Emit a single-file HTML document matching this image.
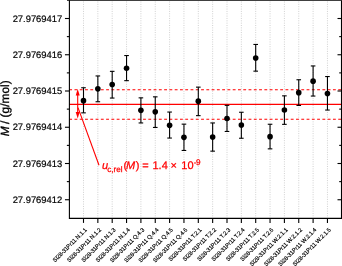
<!DOCTYPE html>
<html><head><meta charset="utf-8"><style>
html,body{margin:0;padding:0;background:#fff;}
body{width:342px;height:266px;overflow:hidden;}
svg{display:block;font-family:"Liberation Sans",Arial,sans-serif;text-rendering:geometricPrecision;}
</style></head><body>
<svg width="342" height="266" viewBox="0 0 342 266">
<line x1="83.50" y1="1.5" x2="83.50" y2="217.90" stroke="#d0d0d0" stroke-width="1" stroke-dasharray="1 1.35"/>
<line x1="97.85" y1="1.5" x2="97.85" y2="217.90" stroke="#d0d0d0" stroke-width="1" stroke-dasharray="1 1.35"/>
<line x1="112.20" y1="1.5" x2="112.20" y2="217.90" stroke="#d0d0d0" stroke-width="1" stroke-dasharray="1 1.35"/>
<line x1="126.55" y1="1.5" x2="126.55" y2="217.90" stroke="#d0d0d0" stroke-width="1" stroke-dasharray="1 1.35"/>
<line x1="140.90" y1="1.5" x2="140.90" y2="217.90" stroke="#d0d0d0" stroke-width="1" stroke-dasharray="1 1.35"/>
<line x1="155.25" y1="1.5" x2="155.25" y2="217.90" stroke="#d0d0d0" stroke-width="1" stroke-dasharray="1 1.35"/>
<line x1="169.60" y1="1.5" x2="169.60" y2="217.90" stroke="#d0d0d0" stroke-width="1" stroke-dasharray="1 1.35"/>
<line x1="183.95" y1="1.5" x2="183.95" y2="217.90" stroke="#d0d0d0" stroke-width="1" stroke-dasharray="1 1.35"/>
<line x1="198.30" y1="1.5" x2="198.30" y2="217.90" stroke="#d0d0d0" stroke-width="1" stroke-dasharray="1 1.35"/>
<line x1="212.65" y1="1.5" x2="212.65" y2="217.90" stroke="#d0d0d0" stroke-width="1" stroke-dasharray="1 1.35"/>
<line x1="227.00" y1="1.5" x2="227.00" y2="217.90" stroke="#d0d0d0" stroke-width="1" stroke-dasharray="1 1.35"/>
<line x1="241.35" y1="1.5" x2="241.35" y2="217.90" stroke="#d0d0d0" stroke-width="1" stroke-dasharray="1 1.35"/>
<line x1="255.70" y1="1.5" x2="255.70" y2="217.90" stroke="#d0d0d0" stroke-width="1" stroke-dasharray="1 1.35"/>
<line x1="270.05" y1="1.5" x2="270.05" y2="217.90" stroke="#d0d0d0" stroke-width="1" stroke-dasharray="1 1.35"/>
<line x1="284.40" y1="1.5" x2="284.40" y2="217.90" stroke="#d0d0d0" stroke-width="1" stroke-dasharray="1 1.35"/>
<line x1="298.75" y1="1.5" x2="298.75" y2="217.90" stroke="#d0d0d0" stroke-width="1" stroke-dasharray="1 1.35"/>
<line x1="313.10" y1="1.5" x2="313.10" y2="217.90" stroke="#d0d0d0" stroke-width="1" stroke-dasharray="1 1.35"/>
<line x1="327.45" y1="1.5" x2="327.45" y2="217.90" stroke="#d0d0d0" stroke-width="1" stroke-dasharray="1 1.35"/>
<line x1="69.15" y1="104.4" x2="341.5" y2="104.4" stroke="#ff0000" stroke-width="1.3"/>
<line x1="69.2" y1="89.7" x2="341.5" y2="89.7" stroke="#ff0000" stroke-width="1.05" stroke-dasharray="2.85 2.425"/>
<line x1="69.2" y1="119.2" x2="341.5" y2="119.2" stroke="#ff0000" stroke-width="1.05" stroke-dasharray="2.85 2.425"/>
<line x1="77.7" y1="94" x2="77.7" y2="113" stroke="#ff0000" stroke-width="1.1"/>
<path d="M77.7 89.1 L75.7 95.4 L79.7 95.4 Z" fill="#ff0000"/>
<path d="M77.7 118.6 L75.7 112.0 L79.7 112.0 Z" fill="#ff0000"/>
<line x1="78.0" y1="107.6" x2="99.0" y2="165.3" stroke="#ff0000" stroke-width="1.1"/>
<line x1="83.50" y1="87.75" x2="83.50" y2="112.85" stroke="#000" stroke-width="1.1"/>
<line x1="81.20" y1="87.75" x2="85.80" y2="87.75" stroke="#000" stroke-width="1.1"/>
<line x1="81.20" y1="112.85" x2="85.80" y2="112.85" stroke="#000" stroke-width="1.1"/>
<circle cx="83.50" cy="100.65" r="2.8" fill="#000"/>
<line x1="97.85" y1="75.95" x2="97.85" y2="101.75" stroke="#000" stroke-width="1.1"/>
<line x1="95.55" y1="75.95" x2="100.15" y2="75.95" stroke="#000" stroke-width="1.1"/>
<line x1="95.55" y1="101.75" x2="100.15" y2="101.75" stroke="#000" stroke-width="1.1"/>
<circle cx="97.85" cy="88.85" r="2.8" fill="#000"/>
<line x1="112.20" y1="71.35" x2="112.20" y2="98.05" stroke="#000" stroke-width="1.1"/>
<line x1="109.90" y1="71.35" x2="114.50" y2="71.35" stroke="#000" stroke-width="1.1"/>
<line x1="109.90" y1="98.05" x2="114.50" y2="98.05" stroke="#000" stroke-width="1.1"/>
<circle cx="112.20" cy="84.55" r="2.8" fill="#000"/>
<line x1="126.55" y1="55.55" x2="126.55" y2="80.65" stroke="#000" stroke-width="1.1"/>
<line x1="124.25" y1="55.55" x2="128.85" y2="55.55" stroke="#000" stroke-width="1.1"/>
<line x1="124.25" y1="80.65" x2="128.85" y2="80.65" stroke="#000" stroke-width="1.1"/>
<circle cx="126.55" cy="68.25" r="2.8" fill="#000"/>
<line x1="140.90" y1="97.85" x2="140.90" y2="122.95" stroke="#000" stroke-width="1.1"/>
<line x1="138.60" y1="97.85" x2="143.20" y2="97.85" stroke="#000" stroke-width="1.1"/>
<line x1="138.60" y1="122.95" x2="143.20" y2="122.95" stroke="#000" stroke-width="1.1"/>
<circle cx="140.90" cy="110.35" r="2.8" fill="#000"/>
<line x1="155.25" y1="96.85" x2="155.25" y2="127.45" stroke="#000" stroke-width="1.1"/>
<line x1="152.95" y1="96.85" x2="157.55" y2="96.85" stroke="#000" stroke-width="1.1"/>
<line x1="152.95" y1="127.45" x2="157.55" y2="127.45" stroke="#000" stroke-width="1.1"/>
<circle cx="155.25" cy="111.85" r="2.8" fill="#000"/>
<line x1="169.60" y1="112.05" x2="169.60" y2="138.05" stroke="#000" stroke-width="1.1"/>
<line x1="167.30" y1="112.05" x2="171.90" y2="112.05" stroke="#000" stroke-width="1.1"/>
<line x1="167.30" y1="138.05" x2="171.90" y2="138.05" stroke="#000" stroke-width="1.1"/>
<circle cx="169.60" cy="125.35" r="2.8" fill="#000"/>
<line x1="183.95" y1="124.15" x2="183.95" y2="150.45" stroke="#000" stroke-width="1.1"/>
<line x1="181.65" y1="124.15" x2="186.25" y2="124.15" stroke="#000" stroke-width="1.1"/>
<line x1="181.65" y1="150.45" x2="186.25" y2="150.45" stroke="#000" stroke-width="1.1"/>
<circle cx="183.95" cy="137.35" r="2.8" fill="#000"/>
<line x1="198.30" y1="87.15" x2="198.30" y2="115.65" stroke="#000" stroke-width="1.1"/>
<line x1="196.00" y1="87.15" x2="200.60" y2="87.15" stroke="#000" stroke-width="1.1"/>
<line x1="196.00" y1="115.65" x2="200.60" y2="115.65" stroke="#000" stroke-width="1.1"/>
<circle cx="198.30" cy="101.15" r="2.8" fill="#000"/>
<line x1="212.65" y1="122.95" x2="212.65" y2="151.15" stroke="#000" stroke-width="1.1"/>
<line x1="210.35" y1="122.95" x2="214.95" y2="122.95" stroke="#000" stroke-width="1.1"/>
<line x1="210.35" y1="151.15" x2="214.95" y2="151.15" stroke="#000" stroke-width="1.1"/>
<circle cx="212.65" cy="137.05" r="2.8" fill="#000"/>
<line x1="227.00" y1="105.35" x2="227.00" y2="131.45" stroke="#000" stroke-width="1.1"/>
<line x1="224.70" y1="105.35" x2="229.30" y2="105.35" stroke="#000" stroke-width="1.1"/>
<line x1="224.70" y1="131.45" x2="229.30" y2="131.45" stroke="#000" stroke-width="1.1"/>
<circle cx="227.00" cy="118.45" r="2.8" fill="#000"/>
<line x1="241.35" y1="112.25" x2="241.35" y2="138.25" stroke="#000" stroke-width="1.1"/>
<line x1="239.05" y1="112.25" x2="243.65" y2="112.25" stroke="#000" stroke-width="1.1"/>
<line x1="239.05" y1="138.25" x2="243.65" y2="138.25" stroke="#000" stroke-width="1.1"/>
<circle cx="241.35" cy="125.05" r="2.8" fill="#000"/>
<line x1="255.70" y1="44.45" x2="255.70" y2="71.15" stroke="#000" stroke-width="1.1"/>
<line x1="253.40" y1="44.45" x2="258.00" y2="44.45" stroke="#000" stroke-width="1.1"/>
<line x1="253.40" y1="71.15" x2="258.00" y2="71.15" stroke="#000" stroke-width="1.1"/>
<circle cx="255.70" cy="57.95" r="2.8" fill="#000"/>
<line x1="270.05" y1="124.25" x2="270.05" y2="148.85" stroke="#000" stroke-width="1.1"/>
<line x1="267.75" y1="124.25" x2="272.35" y2="124.25" stroke="#000" stroke-width="1.1"/>
<line x1="267.75" y1="148.85" x2="272.35" y2="148.85" stroke="#000" stroke-width="1.1"/>
<circle cx="270.05" cy="136.65" r="2.8" fill="#000"/>
<line x1="284.40" y1="95.85" x2="284.40" y2="124.35" stroke="#000" stroke-width="1.1"/>
<line x1="282.10" y1="95.85" x2="286.70" y2="95.85" stroke="#000" stroke-width="1.1"/>
<line x1="282.10" y1="124.35" x2="286.70" y2="124.35" stroke="#000" stroke-width="1.1"/>
<circle cx="284.40" cy="109.95" r="2.8" fill="#000"/>
<line x1="298.75" y1="79.75" x2="298.75" y2="105.45" stroke="#000" stroke-width="1.1"/>
<line x1="296.45" y1="79.75" x2="301.05" y2="79.75" stroke="#000" stroke-width="1.1"/>
<line x1="296.45" y1="105.45" x2="301.05" y2="105.45" stroke="#000" stroke-width="1.1"/>
<circle cx="298.75" cy="92.65" r="2.8" fill="#000"/>
<line x1="313.10" y1="65.95" x2="313.10" y2="96.05" stroke="#000" stroke-width="1.1"/>
<line x1="310.80" y1="65.95" x2="315.40" y2="65.95" stroke="#000" stroke-width="1.1"/>
<line x1="310.80" y1="96.05" x2="315.40" y2="96.05" stroke="#000" stroke-width="1.1"/>
<circle cx="313.10" cy="81.15" r="2.8" fill="#000"/>
<line x1="327.45" y1="76.55" x2="327.45" y2="110.05" stroke="#000" stroke-width="1.1"/>
<line x1="325.15" y1="76.55" x2="329.75" y2="76.55" stroke="#000" stroke-width="1.1"/>
<line x1="325.15" y1="110.05" x2="329.75" y2="110.05" stroke="#000" stroke-width="1.1"/>
<circle cx="327.45" cy="93.55" r="2.8" fill="#000"/>
<path d="M69.4 0.3 V218.4 H341.5 V0.3" fill="none" stroke="#000" stroke-width="1.1"/>
<line x1="67" y1="0.3" x2="341.5" y2="0.3" stroke="#000" stroke-width="1.1"/>
<line x1="64.95" y1="18.50" x2="69.15" y2="18.50" stroke="#000" stroke-width="1.1"/>
<line x1="337.50" y1="18.50" x2="341.5" y2="18.50" stroke="#000" stroke-width="1.1"/>
<text x="62.2" y="21.60" text-anchor="end" font-size="9.4" stroke="#000" stroke-width="0.2">27.9769417</text>
<line x1="64.95" y1="54.75" x2="69.15" y2="54.75" stroke="#000" stroke-width="1.1"/>
<line x1="337.50" y1="54.75" x2="341.5" y2="54.75" stroke="#000" stroke-width="1.1"/>
<text x="62.2" y="57.85" text-anchor="end" font-size="9.4" stroke="#000" stroke-width="0.2">27.9769416</text>
<line x1="64.95" y1="91.00" x2="69.15" y2="91.00" stroke="#000" stroke-width="1.1"/>
<line x1="337.50" y1="91.00" x2="341.5" y2="91.00" stroke="#000" stroke-width="1.1"/>
<text x="62.2" y="94.10" text-anchor="end" font-size="9.4" stroke="#000" stroke-width="0.2">27.9769415</text>
<line x1="64.95" y1="127.25" x2="69.15" y2="127.25" stroke="#000" stroke-width="1.1"/>
<line x1="337.50" y1="127.25" x2="341.5" y2="127.25" stroke="#000" stroke-width="1.1"/>
<text x="62.2" y="130.35" text-anchor="end" font-size="9.4" stroke="#000" stroke-width="0.2">27.9769414</text>
<line x1="64.95" y1="163.50" x2="69.15" y2="163.50" stroke="#000" stroke-width="1.1"/>
<line x1="337.50" y1="163.50" x2="341.5" y2="163.50" stroke="#000" stroke-width="1.1"/>
<text x="62.2" y="166.60" text-anchor="end" font-size="9.4" stroke="#000" stroke-width="0.2">27.9769413</text>
<line x1="64.95" y1="199.75" x2="69.15" y2="199.75" stroke="#000" stroke-width="1.1"/>
<line x1="337.50" y1="199.75" x2="341.5" y2="199.75" stroke="#000" stroke-width="1.1"/>
<text x="62.2" y="202.85" text-anchor="end" font-size="9.4" stroke="#000" stroke-width="0.2">27.9769412</text>
<line x1="66.85" y1="36.62" x2="69.15" y2="36.62" stroke="#000" stroke-width="1.1"/>
<line x1="339.20" y1="36.62" x2="341.5" y2="36.62" stroke="#000" stroke-width="1.1"/>
<line x1="66.85" y1="72.88" x2="69.15" y2="72.88" stroke="#000" stroke-width="1.1"/>
<line x1="339.20" y1="72.88" x2="341.5" y2="72.88" stroke="#000" stroke-width="1.1"/>
<line x1="66.85" y1="109.12" x2="69.15" y2="109.12" stroke="#000" stroke-width="1.1"/>
<line x1="339.20" y1="109.12" x2="341.5" y2="109.12" stroke="#000" stroke-width="1.1"/>
<line x1="66.85" y1="145.38" x2="69.15" y2="145.38" stroke="#000" stroke-width="1.1"/>
<line x1="339.20" y1="145.38" x2="341.5" y2="145.38" stroke="#000" stroke-width="1.1"/>
<line x1="66.85" y1="181.62" x2="69.15" y2="181.62" stroke="#000" stroke-width="1.1"/>
<line x1="339.20" y1="181.62" x2="341.5" y2="181.62" stroke="#000" stroke-width="1.1"/>
<line x1="83.50" y1="218.4" x2="83.50" y2="222.90" stroke="#000" stroke-width="1.1"/>
<text x="87.20" y="230.30" text-anchor="end" font-size="5.8" letter-spacing="-0.1" stroke="#000" stroke-width="0.15" transform="rotate(-45 87.20 230.30)">Si28-31Pr11 N.1.1</text>
<line x1="97.85" y1="218.4" x2="97.85" y2="222.90" stroke="#000" stroke-width="1.1"/>
<text x="101.55" y="230.30" text-anchor="end" font-size="5.8" letter-spacing="-0.1" stroke="#000" stroke-width="0.15" transform="rotate(-45 101.55 230.30)">Si28-31Pr11 N.1.2</text>
<line x1="112.20" y1="218.4" x2="112.20" y2="222.90" stroke="#000" stroke-width="1.1"/>
<text x="115.90" y="230.30" text-anchor="end" font-size="5.8" letter-spacing="-0.1" stroke="#000" stroke-width="0.15" transform="rotate(-45 115.90 230.30)">Si28-31Pr11 N.1.3</text>
<line x1="126.55" y1="218.4" x2="126.55" y2="222.90" stroke="#000" stroke-width="1.1"/>
<text x="130.25" y="230.30" text-anchor="end" font-size="5.8" letter-spacing="-0.1" stroke="#000" stroke-width="0.15" transform="rotate(-45 130.25 230.30)">Si28-31Pr11 N.1.4</text>
<line x1="140.90" y1="218.4" x2="140.90" y2="222.90" stroke="#000" stroke-width="1.1"/>
<text x="144.60" y="230.30" text-anchor="end" font-size="5.8" letter-spacing="-0.1" stroke="#000" stroke-width="0.15" transform="rotate(-45 144.60 230.30)">Si28-31Pr11 Q.4.3</text>
<line x1="155.25" y1="218.4" x2="155.25" y2="222.90" stroke="#000" stroke-width="1.1"/>
<text x="158.95" y="230.30" text-anchor="end" font-size="5.8" letter-spacing="-0.1" stroke="#000" stroke-width="0.15" transform="rotate(-45 158.95 230.30)">Si28-31Pr11 Q.4.4</text>
<line x1="169.60" y1="218.4" x2="169.60" y2="222.90" stroke="#000" stroke-width="1.1"/>
<text x="173.30" y="230.30" text-anchor="end" font-size="5.8" letter-spacing="-0.1" stroke="#000" stroke-width="0.15" transform="rotate(-45 173.30 230.30)">Si28-31Pr11 Q.4.5</text>
<line x1="183.95" y1="218.4" x2="183.95" y2="222.90" stroke="#000" stroke-width="1.1"/>
<text x="187.65" y="230.30" text-anchor="end" font-size="5.8" letter-spacing="-0.1" stroke="#000" stroke-width="0.15" transform="rotate(-45 187.65 230.30)">Si28-31Pr11 Q.4.6</text>
<line x1="198.30" y1="218.4" x2="198.30" y2="222.90" stroke="#000" stroke-width="1.1"/>
<text x="202.00" y="230.30" text-anchor="end" font-size="5.8" letter-spacing="-0.1" stroke="#000" stroke-width="0.15" transform="rotate(-45 202.00 230.30)">Si28-31Pr11 T.2.1</text>
<line x1="212.65" y1="218.4" x2="212.65" y2="222.90" stroke="#000" stroke-width="1.1"/>
<text x="216.35" y="230.30" text-anchor="end" font-size="5.8" letter-spacing="-0.1" stroke="#000" stroke-width="0.15" transform="rotate(-45 216.35 230.30)">Si28-31Pr11 T.2.2</text>
<line x1="227.00" y1="218.4" x2="227.00" y2="222.90" stroke="#000" stroke-width="1.1"/>
<text x="230.70" y="230.30" text-anchor="end" font-size="5.8" letter-spacing="-0.1" stroke="#000" stroke-width="0.15" transform="rotate(-45 230.70 230.30)">Si28-31Pr11 T.2.3</text>
<line x1="241.35" y1="218.4" x2="241.35" y2="222.90" stroke="#000" stroke-width="1.1"/>
<text x="245.05" y="230.30" text-anchor="end" font-size="5.8" letter-spacing="-0.1" stroke="#000" stroke-width="0.15" transform="rotate(-45 245.05 230.30)">Si28-31Pr11 T.2.4</text>
<line x1="255.70" y1="218.4" x2="255.70" y2="222.90" stroke="#000" stroke-width="1.1"/>
<text x="259.40" y="230.30" text-anchor="end" font-size="5.8" letter-spacing="-0.1" stroke="#000" stroke-width="0.15" transform="rotate(-45 259.40 230.30)">Si28-31Pr11 T.2.5</text>
<line x1="270.05" y1="218.4" x2="270.05" y2="222.90" stroke="#000" stroke-width="1.1"/>
<text x="273.75" y="230.30" text-anchor="end" font-size="5.8" letter-spacing="-0.1" stroke="#000" stroke-width="0.15" transform="rotate(-45 273.75 230.30)">Si28-31Pr11 T.2.6</text>
<line x1="284.40" y1="218.4" x2="284.40" y2="222.90" stroke="#000" stroke-width="1.1"/>
<text x="288.10" y="230.30" text-anchor="end" font-size="5.8" letter-spacing="-0.1" stroke="#000" stroke-width="0.15" transform="rotate(-45 288.10 230.30)">Si28-31Pr11 W.2.1.1</text>
<line x1="298.75" y1="218.4" x2="298.75" y2="222.90" stroke="#000" stroke-width="1.1"/>
<text x="302.45" y="230.30" text-anchor="end" font-size="5.8" letter-spacing="-0.1" stroke="#000" stroke-width="0.15" transform="rotate(-45 302.45 230.30)">Si28-31Pr11 W.2.1.2</text>
<line x1="313.10" y1="218.4" x2="313.10" y2="222.90" stroke="#000" stroke-width="1.1"/>
<text x="316.80" y="230.30" text-anchor="end" font-size="5.8" letter-spacing="-0.1" stroke="#000" stroke-width="0.15" transform="rotate(-45 316.80 230.30)">Si28-31Pr11 W.2.1.4</text>
<line x1="327.45" y1="218.4" x2="327.45" y2="222.90" stroke="#000" stroke-width="1.1"/>
<text x="331.15" y="230.30" text-anchor="end" font-size="5.8" letter-spacing="-0.1" stroke="#000" stroke-width="0.15" transform="rotate(-45 331.15 230.30)">Si28-31Pr11 W.2.1.5</text>
<text x="0" y="0" font-size="11.9" stroke="#000" stroke-width="0.3" transform="translate(8.9 136.2) rotate(-90)"><tspan font-style="italic">M</tspan><tspan dx="-1.0"> / (g/mol)</tspan></text>
<g fill="#ff0000" stroke="#ff0000" stroke-width="0.25">
<text x="102.0" y="169.4" font-size="11" font-style="italic">u</text>
<text x="107.3" y="172.1" font-size="8.1" font-style="normal">c,rel</text>
<text x="123.4" y="169.4" font-size="11" font-style="normal">(</text>
<text x="126.0" y="169.4" font-size="11" font-style="italic">M</text>
<text x="135.8" y="169.4" font-size="11" font-style="normal">)</text>
<text x="142.3" y="169.4" font-size="11" font-style="normal">=</text>
<text x="152.5" y="169.4" font-size="11" font-style="normal">1.4</text>
<text x="170.6" y="169.4" font-size="11" font-style="normal">×</text>
<text x="181.3" y="169.4" font-size="11" font-style="normal">10</text>
<text x="193.8" y="164.6" font-size="7.6" font-style="normal">-</text>
<text x="196.0" y="164.6" font-size="8.2" font-style="normal">9</text>
</g>
</svg>
</body></html>
